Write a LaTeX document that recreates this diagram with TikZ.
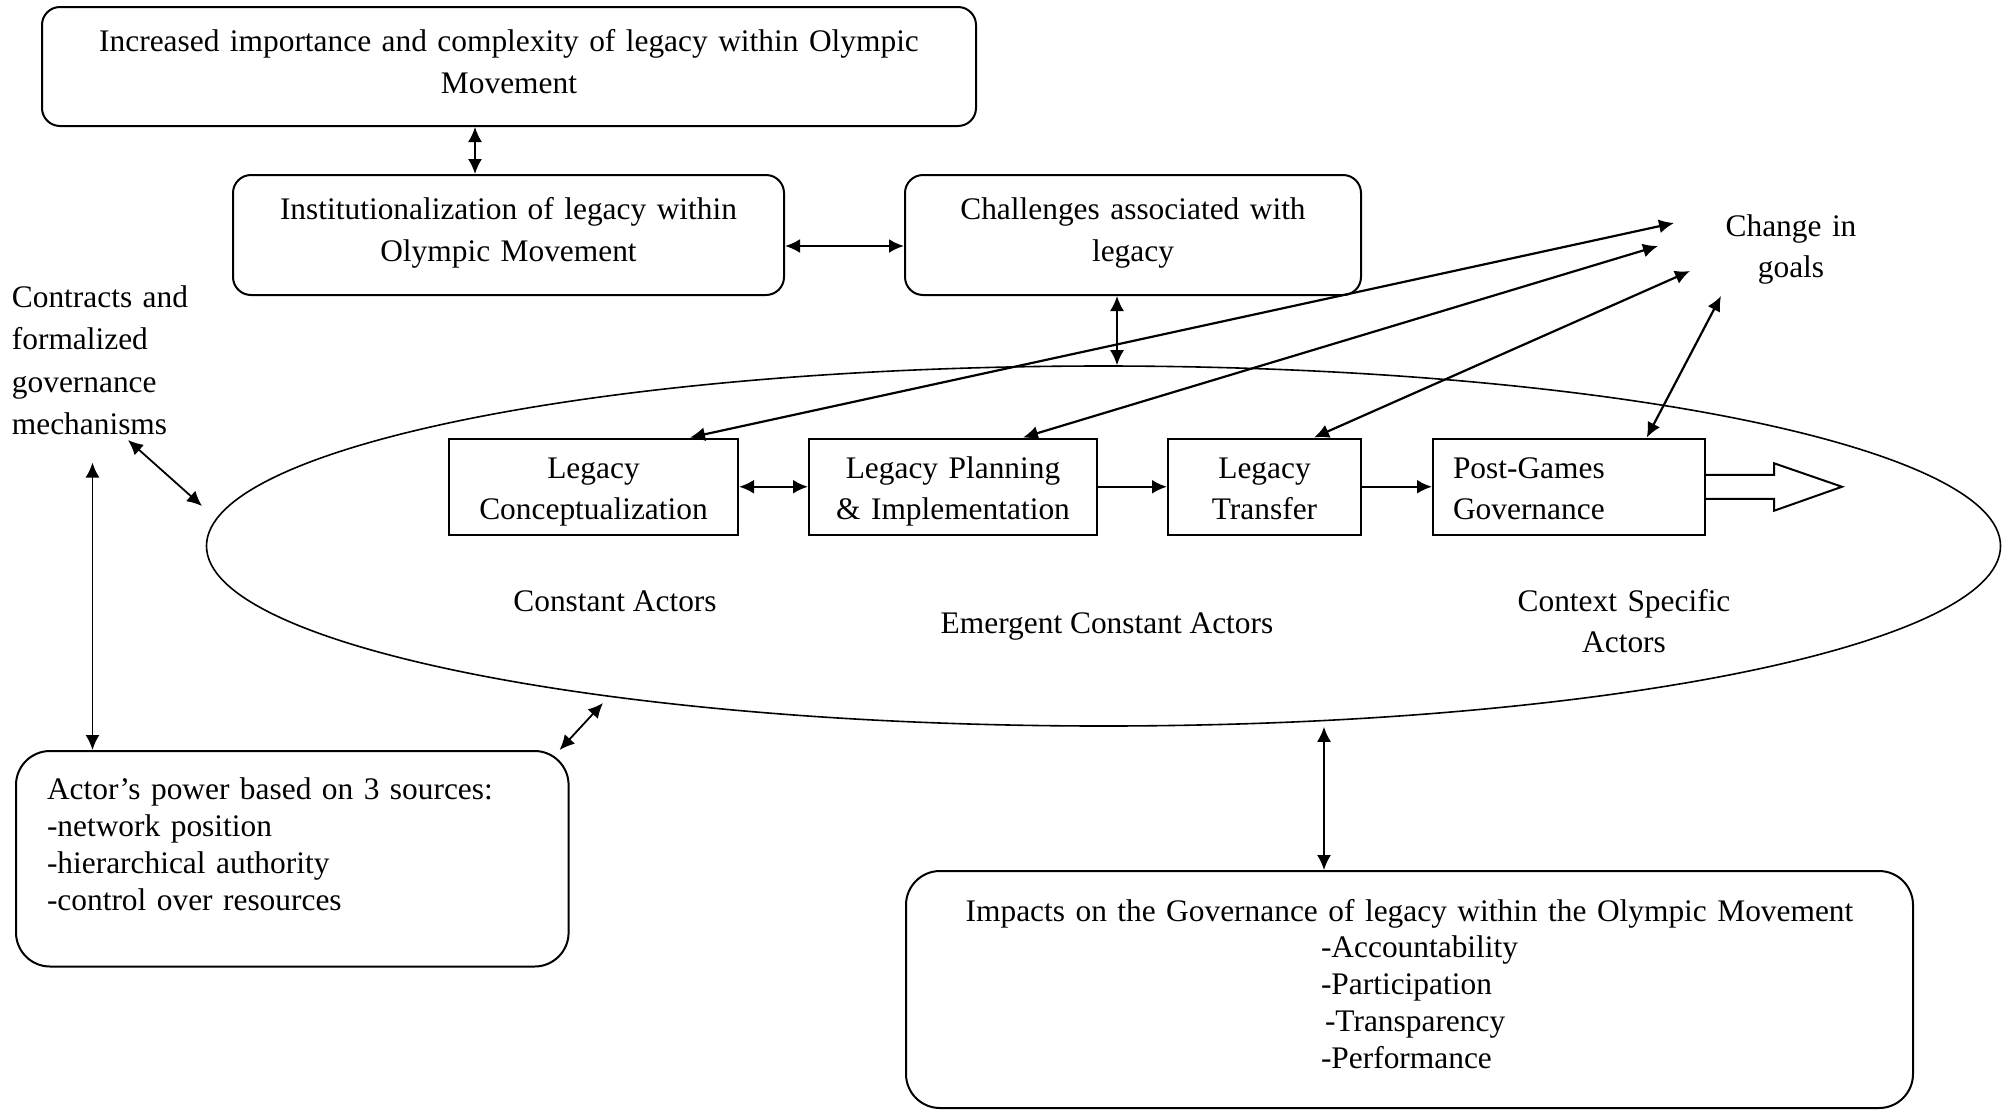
\documentclass[tikz,border=0pt]{standalone}
\usepackage{fontspec}
\setmainfont{Liberation Serif}
\usetikzlibrary{arrows.meta,shapes.geometric,calc}
\begin{document}
\begin{tikzpicture}[x=0.5pt,y=-0.5pt,
  rbox/.style={draw, line width=1pt, rounded corners=9pt, inner ysep=0pt, align=center, anchor=north west, font=\fontsize{15.7}{21}\selectfont},
  bigbox/.style={draw, line width=1pt, rounded corners=17pt, inner ysep=0pt, anchor=north west},
  sbox/.style={draw, line width=1pt, inner ysep=0pt, inner xsep=5pt, anchor=north west, text height=19.75pt, text depth=28.5pt, font=\fontsize{15.7}{20.5}\selectfont},
  lbl/.style={inner sep=0pt, font=\fontsize{15.7}{20.5}\selectfont},
  dbl/.style={{Latex[length=7.5pt,width=7pt]}-{Latex[length=7.5pt,width=7pt]}, line width=0.9pt},
  sgl/.style={-{Latex[length=7.5pt,width=7pt]}, line width=0.9pt}
]
\fill[white] (0,0) rectangle (2002,1109);
\useasboundingbox (0,0) rectangle (2002,1109);

% top boxes
\node[rbox, inner xsep=10pt, text width=447pt, text height=22pt, text depth=37.5pt] (box1) at (41,6)
  {Increased importance and complexity of legacy within Olympic\\Movement};
\node[rbox, inner xsep=8pt, text width=259.5pt, text height=22pt, text depth=38pt] (box2) at (232,174)
  {Institutionalization of legacy within\\Olympic Movement};
\node[rbox, inner xsep=8pt, text width=212pt, text height=22pt, text depth=38pt] (box3) at (904,174)
  {Challenges associated with\\legacy};

% ellipse
\node[draw, ellipse, minimum width=897pt, minimum height=180pt, inner sep=0pt, line width=0.8pt] (ell) at (1103.5,546) {};

% process boxes
\node[sbox, align=center, text width=134.5pt] (lc) at (448,437.5) {Legacy\\Conceptualization};
\node[sbox, align=center, text width=134pt] (lp) at (808,437.5) {Legacy Planning\\\& Implementation};
\node[sbox, align=center, text width=86.5pt] (lt) at (1167,437.5) {Legacy\\Transfer};
\node[sbox, align=left, inner xsep=10pt, text width=115.75pt] (pg) at (1432,437.5) {Post-Games\\Governance};

% outline arrow
\draw[line width=1pt, line join=miter] ($(pg.east)+(0,-12)$) -- ++(68.5,0) -- ++(0,-11.5) -- ($(pg.east)+(136.5,0)$)
  -- ($(pg.east)+(68.5,24)$) -- ++(0,-12) -- ($(pg.east)+(0,12)$);

% free labels
\node[lbl, text width=100pt, align=left, anchor=base west, font=\fontsize{15.7}{21.25}\selectfont] (contracts) at (11.5,307)
  {Contracts and\\formalized\\governance\\mechanisms};
\node[lbl, text width=90pt, align=center, anchor=base] (goals) at (1791,236) {Change in\\goals};
\node[lbl, anchor=base] (constant) at (615,611) {Constant Actors};
\node[lbl, anchor=base] (emergent) at (1107,633.5) {Emergent Constant Actors};
\node[lbl, text width=130pt, align=center, anchor=base] (context) at (1624,611) {Context Specific\\Actors};

% bottom boxes
\node[bigbox, inner xsep=15.5pt, text width=245.3pt, text height=24pt, text depth=83.75pt, align=left, font=\fontsize{15.7}{18.5}\selectfont] (actor) at (15,750)
  {Actor’s power based on 3 sources:\\-network position\\-hierarchical authority\\-control over resources};
\node[bigbox, inner xsep=11.75pt, text width=480pt, text height=25pt, text depth=93.5pt, align=center, font=\fontsize{15.7}{18.4}\selectfont] (imp) at (905,870)
  {Impacts on the Governance of legacy within the Olympic Movement\\
   \makebox[88.5pt][l]{-Accountability}\\
   \makebox[88.5pt][l]{-Participation}\\
   \makebox[88.5pt][l]{\hspace{2pt}-Transparency}\\
   \makebox[88.5pt][l]{-Performance}};

% helper coordinates
\coordinate (c1) at (475,0);
\coordinate (c2) at (0,246);
\coordinate (c3) at (1117,0);
\coordinate (c4) at (1324,0);
\coordinate (g1) at (1674,223);
\coordinate (g2) at (1658,246);
\coordinate (g3) at (1690,271);
\coordinate (g4) at (1721,296);
\coordinate (mA) at (128,440);
\coordinate (eA) at (202,506);
\coordinate (vA) at (92.5,462.5);
\coordinate (eB) at (603,703);

% connectors
\draw[dbl] (box1.south -| c1) -- (box2.north -| c1);
\draw[dbl, line width=1.2pt] (box2.east |- c2) -- (box3.west |- c2);
\draw[dbl] (box3.south -| c3) -- (ell.north -| c3);
\draw[dbl, line width=1.2pt] (lc.east) -- (lp.west);
\draw[sgl, line width=1.2pt] (lp.east) -- (lt.west);
\draw[sgl, line width=1.2pt] (lt.east) -- (pg.west);
\draw[dbl, line width=1.1pt] ([xshift=48.25pt]lc.north) -- (g1);
\draw[dbl, line width=1.1pt] ([xshift=35pt]lp.north) -- (g2);
\draw[dbl, line width=1.1pt] ([xshift=24.75pt]lt.north) -- (g3);
\draw[dbl, line width=1.1pt] ([xshift=39pt]pg.north) -- (g4);
\draw[dbl] (mA) -- (eA);
\draw[dbl] (vA) -- (actor.north -| vA);
\draw[dbl] ([xshift=-5pt]actor.north east) -- (eB);
\draw[dbl] (ell.south -| c4) -- (imp.north -| c4);
\end{tikzpicture}
\end{document}
